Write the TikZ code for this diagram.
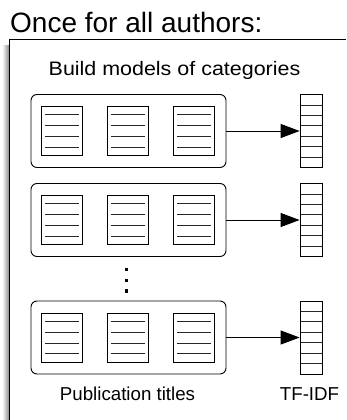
\documentclass[tikz,border=0pt]{standalone}
\usepackage{fontspec}
\setmainfont{Liberation Sans}
\newfontfamily\widesans[FakeStretch=1.1]{Liberation Sans}
\usetikzlibrary{arrows.meta}
\begin{document}
\begin{tikzpicture}[x=1pt,y=-1pt,
  frameline/.style={line width=1pt},
  group/.style={draw, line width=0.9pt, rounded corners=6pt,
    minimum width=195pt, minimum height=73pt, inner sep=0pt},
  doc/.style={draw, line width=0.8pt, minimum width=41pt, minimum height=49pt,
    inner sep=0pt,
    path picture={
      \foreach \dy in {-16.2,-5.4,5.4,16.2}
        \draw[line width=0.8pt, black!85]
          ([xshift=-16.5pt,yshift=\dy pt]path picture bounding box.center)
          -- ++(34pt,0pt);
    }},
  tfidf/.style={draw, line width=0.8pt, minimum width=22pt, minimum height=73pt,
    inner sep=0pt,
    path picture={
      \foreach \k in {1,...,6}
        \draw[line width=0.8pt, black!85]
          ([yshift=-\k*73/7 pt]path picture bounding box.north west)
          -- ([yshift=-\k*73/7 pt]path picture bounding box.north east);
    }},
  conn/.style={line width=0.9pt, -{Triangle[length=19pt,width=14pt]}},
  vdot/.style={fill=black, minimum size=3.3pt, inner sep=0pt},
  lbl/.style={inner sep=0pt, anchor=base}
]
\useasboundingbox (0,0) rectangle (346,420);

% panel frame with its soft left shadow
\shade[left color=white, right color=black!45] (2,46) rectangle (9,420);
\draw[frameline] (9.5,420) -- (9.5,40) -- (346,40);

% headings
\node[lbl, anchor=base west, font=\fontsize{28}{30}\selectfont] (title) at (10,33) {Once for all authors:};
\node[lbl, font=\widesans\fontsize{19.5}{22}\selectfont] (build) at (174.5,75.7) {Build models of categories};

% three groups of titles, each feeding a TF-IDF vector
\foreach \i/\y in {1/131, 2/220, 3/337.5} {
  \node[group] (g\i) at (128.5,\y) {};
  \foreach \j/\x in {1/61.5, 2/127.5, 3/193.5}
    \node[doc] (d\i\j) at (\x,\y) {};
  \node[tfidf] (v\i) at (311,\y) {};
  \draw[conn] (g\i.east) -- (v\i.west);
}

% ellipsis between the second and last group
\node[vdot] (e1) at (126.5,269.5) {};
\node[vdot] (e2) at (126.5,280.2) {};
\node[vdot] (e3) at (126.5,290.9) {};

% captions
\node[lbl, font=\fontsize{18.7}{20}\selectfont] (pub) at (127.5,400.6) {Publication titles};
\node[lbl, font=\fontsize{18.7}{20}\selectfont] (tf) at (309.5,400.6) {TF-IDF};
\end{tikzpicture}
\end{document}
